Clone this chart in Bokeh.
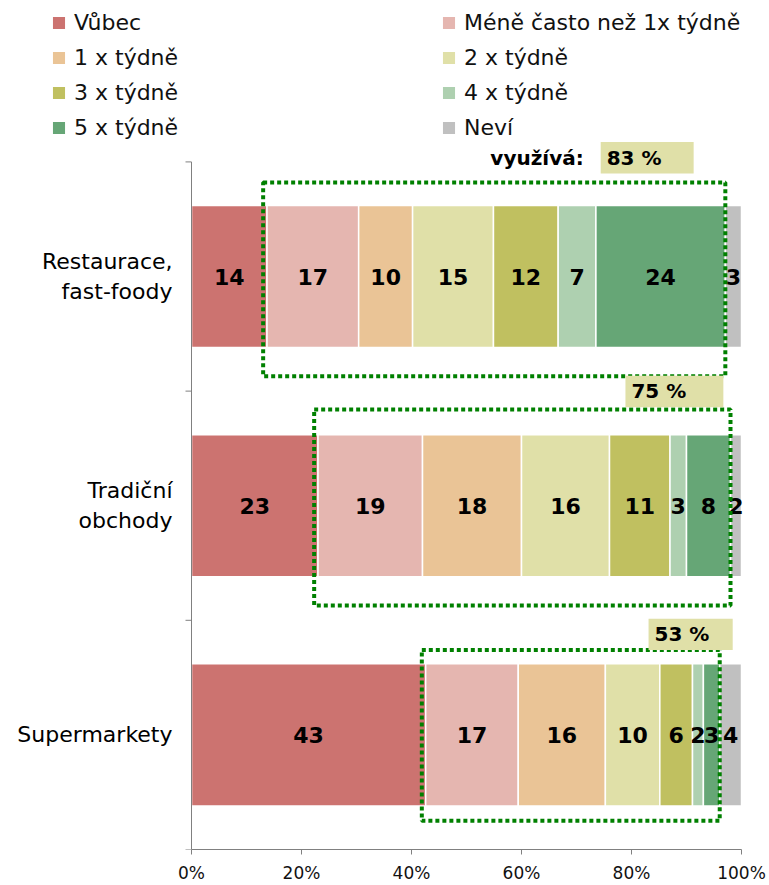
import math
from bokeh.plotting import figure
from bokeh.models import ColumnDataSource, Range1d, FixedTicker, Legend, LegendItem
from bokeh.core.properties import value
from bokeh.embed import file_html
from bokeh.resources import INLINE

# ---------------- data ----------------
categories = ["Restaurace,\nfast-foody", "Tradiční\nobchody", "Supermarkety"]
series = ["Vůbec", "Méně často než 1x týdně", "1 x týdně", "2 x týdně",
          "3 x týdně", "4 x týdně", "5 x týdně", "Neví"]
vubec = [14, 23, 43]
mene_casto = [17, 19, 17]
tydne_1 = [10, 18, 16]
tydne_2 = [15, 16, 10]
tydne_3 = [12, 11, 6]
tydne_4 = [7, 3, 2]
tydne_5 = [24, 8, 3]
nevi = [3, 2, 4]
vyuziva = ["83 %", "75 %", "53 %"]
x_ticks = [0, 20, 40, 60, 80, 100]
x_tick_labels = ["0%", "20%", "40%", "60%", "80%", "100%"]

colors = ["#CC7370", "#E5B6B0", "#EAC496", "#E0E0A8",
          "#C0C060", "#AED0B0", "#66A676", "#C0C0C0"]

# callout layout (annotation placement, not data)
box_left = [74.4, 78.9, 83.1]
box_width = [16.9, 17.8, 15.3]
box_bottom_off = [0.45, 0.43, 0.37]
box_h = 0.137
rect_top_off = [0.41, 0.42, 0.37]
rect_bot_off = [0.435, 0.435, 0.375]

FONT = value("DejaVu Sans")

values = [vubec, mene_casto, tydne_1, tydne_2, tydne_3, tydne_4, tydne_5, nevi]
n = len(categories)
ycent = [n - i - 0.5 for i in range(n)]
totals = [sum(v[i] for v in values) for i in range(n)]

p = figure(width=769, height=885, output_backend="svg", toolbar_location=None,
           x_range=Range1d(-34.73, 105.09), y_range=Range1d(0, 3.7043),
           y_axis_location=None, min_border_left=0, min_border_right=0,
           min_border_top=0, min_border_bottom=33)
p.xgrid.visible = False
p.ygrid.visible = False
p.outline_line_color = None

# stacked 100% bars
cum = [0.0] * n
renderers = []
lbl_x, lbl_y, lbl_t = [], [], []
lefts_all, rights_all = [], []
for s, (vals, col) in enumerate(zip(values, colors)):
    pct = [vals[i] / totals[i] * 100 for i in range(n)]
    left = cum[:]
    right = [cum[i] + pct[i] for i in range(n)]
    src = ColumnDataSource(dict(y=ycent, left=left, right=right))
    r = p.hbar(y="y", left="left", right="right", height=0.62, source=src,
               fill_color=col, line_color="white", line_width=1.5)
    renderers.append(r)
    lefts_all.append(left)
    rights_all.append(right)
    for i in range(n):
        lbl_x.append((left[i] + right[i]) / 2)
        lbl_y.append(ycent[i])
        lbl_t.append(str(vals[i]))
    cum = right

p.text(x=lbl_x, y=lbl_y, text=lbl_t, text_font=FONT, text_font_style="bold",
       text_font_size="22px", text_align="center", text_baseline="middle",
       text_color="black")

# dotted "využívá" rectangles (Méně často .. 5 x týdně)
rx0 = [lefts_all[1][i] - 0.7 for i in range(n)]
rx1 = [rights_all[6][i] for i in range(n)]
ry0 = [ycent[i] - rect_bot_off[i] for i in range(n)]
ry1 = [ycent[i] + rect_top_off[i] for i in range(n)]
p.quad(left=rx0, right=rx1, bottom=ry0, top=ry1, fill_color=None,
       line_color="#008000", line_width=4, line_dash="4 3")

# callout boxes
bx0 = box_left
bx1 = [box_left[i] + box_width[i] for i in range(n)]
by0 = [ycent[i] + box_bottom_off[i] for i in range(n)]
by1 = [by0[i] + box_h for i in range(n)]
p.quad(left=bx0, right=bx1, bottom=by0, top=by1, fill_color="#E0E0A8",
       line_color=None)
p.text(x=bx0, y=[(by0[i] + by1[i]) / 2 for i in range(n)], text=vyuziva,
       x_offset=6, text_font=FONT, text_font_style="bold", text_font_size="20px",
       text_align="left", text_baseline="middle", text_color="black")
p.text(x=[box_left[0]], y=[(by0[0] + by1[0]) / 2], text=["využívá:"],
       x_offset=-17, text_font=FONT, text_font_style="bold", text_font_size="20px",
       text_align="right", text_baseline="middle", text_color="black")

# manual y axis (category axis with ticks between categories)
p.segment(x0=[0], y0=[0], x1=[0], y1=[n], line_color="#808080", line_width=1)
p.ray(x=[0] * (n + 1), y=list(range(n + 1)), length=6, length_units="screen",
      angle=math.pi, line_color="#808080", line_width=1)
p.text(x=[0] * n, y=ycent, text=categories, x_offset=-19, text_font=FONT,
       text_font_size="22px", text_align="right", text_baseline="middle",
       text_line_height=1.2, text_color="black")

# x axis
xa = p.xaxis[0]
xa.bounds = (0, 100)
xa.ticker = FixedTicker(ticks=x_ticks)
xa.major_label_overrides = {t: l for t, l in zip(x_ticks, x_tick_labels)}
xa.axis_line_color = "#808080"
xa.major_tick_line_color = "#808080"
xa.major_tick_out = 5
xa.major_tick_in = 0
xa.minor_tick_line_color = None
xa.major_label_standoff = 8
xa.major_label_text_font = "DejaVu Sans"
xa.major_label_text_font_size = "17px"
xa.major_label_text_color = "#111111"

legend = Legend(items=[LegendItem(label=s, renderers=[r]) for s, r in zip(series, renderers)],
                location=(50, 708), orientation="horizontal", ncols=2,
                glyph_width=17, glyph_height=17, label_standoff=7,
                label_width=359, label_height=28, spacing=7, padding=0, margin=0,
                label_text_font="DejaVu Sans", label_text_font_size="22px",
                label_text_color="#111111", border_line_color=None,
                background_fill_alpha=0)
p.add_layout(legend)

open("out.html", "w").write(file_html(p, INLINE))
